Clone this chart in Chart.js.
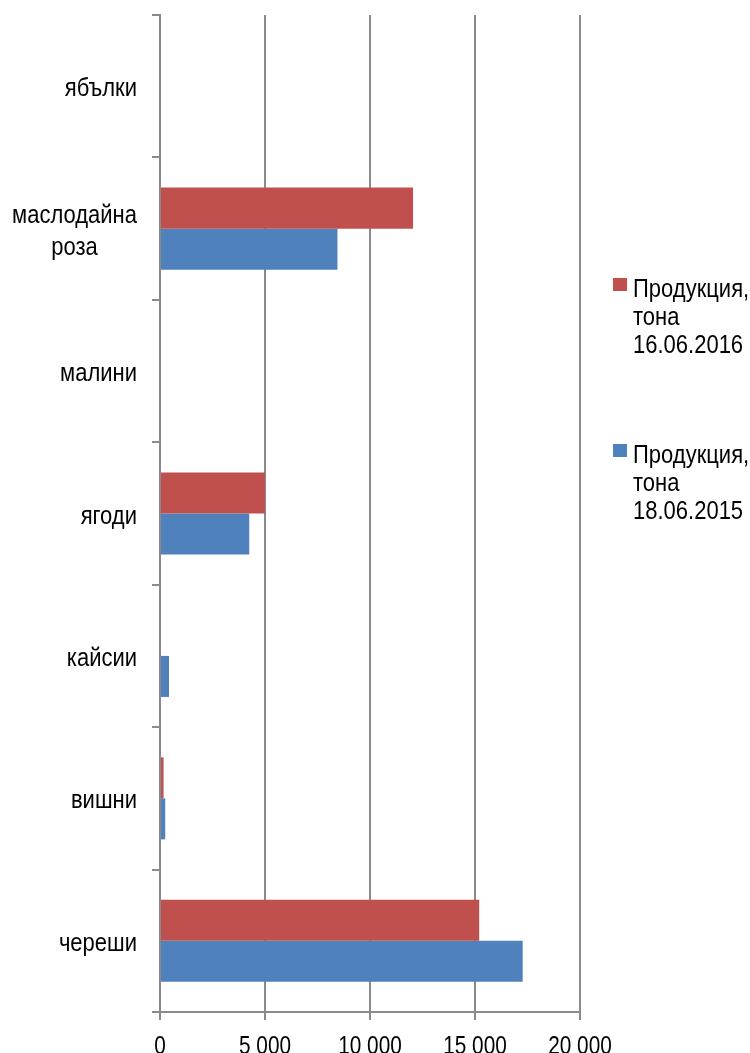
<!DOCTYPE html>
<html>
<head>
<meta charset="utf-8">
<script src="https://cdn.jsdelivr.net/npm/chart.js@4"></script>
<style>
  body { margin: 0; background: #fff; }
</style>
</head>
<body>
<canvas id="grafico" width="750" height="1053"></canvas>
<script>
// Datos
const categorias = ['ябълки', ['маслодайна', 'роза'], 'малини', 'ягоди', 'кайсии', 'вишни', 'череши'];
const produccion2016 = [null, 12050, null, 5000, null, 170, 15200];
const produccion2015 = [null, 8450, null, 4250, 430, 250, 17270];
const etiquetas = ['Продукция, тона 16.06.2016', 'Продукция, тона 18.06.2015'];
const lineasLeyenda = [['Продукция,', 'тона', '16.06.2016'], ['Продукция,', 'тона', '18.06.2015']];
const ticksX = [0, 5000, 10000, 15000, 20000];

const ROJO = '#C0504D';
const AZUL = '#4F81BD';
const GRIS = '#8a8a8a';
const FUENTE = "'Liberation Sans', Arial, sans-serif";
const ESCALA_V = 1.2; // el texto del original esta estirado en vertical

function formatearMiles(v) {
  return String(v).replace(/\B(?=(\d{3})+(?!\d))/g, ' ');
}

function texto(ctx, t, x, yBase, align) {
  ctx.textAlign = align;
  ctx.fillText(t, x, yBase / ESCALA_V);
}

// todo el texto se dibuja aqui, con la escala vertical
const textos = {
  id: 'textos',
  afterDraw(chart) {
    const ctx = chart.ctx;
    const y = chart.scales.y;
    const x = chart.scales.x;
    ctx.save();
    ctx.scale(1, ESCALA_V);
    ctx.fillStyle = '#000';
    ctx.textBaseline = 'alphabetic';

    // eje Y
    ctx.font = '22px ' + FUENTE;
    categorias.forEach((cat, i) => {
      const lineas = Array.isArray(cat) ? cat : [cat];
      const ancho = Math.max(...lineas.map(l => ctx.measureText(l).width));
      const cx = 137 - ancho / 2;
      const cy = y.getPixelForValue(i) + 10;
      lineas.forEach((l, j) => {
        texto(ctx, l, cx, cy + (j - (lineas.length - 1) / 2) * 32, 'center');
      });
    });

    // eje X
    ctx.font = '20.8px ' + FUENTE;
    ticksX.forEach(v => {
      texto(ctx, formatearMiles(v), x.getPixelForValue(v), 1054, 'center');
    });

    // leyenda
    ctx.font = '22px ' + FUENTE;
    const bases = [297, 463];
    lineasLeyenda.forEach((lineas, i) => {
      lineas.forEach((l, j) => {
        texto(ctx, l, 633, bases[i] + j * 28, 'left');
      });
    });
    ctx.restore();

    [ROJO, AZUL].forEach((c, i) => {
      ctx.fillStyle = c;
      ctx.fillRect(613, bases[i] - 19, 14, 13);
    });
  }
};

const ctx = document.getElementById('grafico').getContext('2d');
const chart = new Chart(ctx, {
  type: 'bar',
  data: {
    labels: categorias,
    datasets: [{
      label: etiquetas[0],
      data: produccion2016,
      backgroundColor: ROJO,
      barPercentage: 1,
      categoryPercentage: 0.576
    }, {
      label: etiquetas[1],
      data: produccion2015,
      backgroundColor: AZUL,
      barPercentage: 1,
      categoryPercentage: 0.576
    }]
  },
  options: {
    indexAxis: 'y',
    responsive: false,
    animation: false,
    devicePixelRatio: 1,
    layout: { padding: { top: 15, right: 170, left: 0, bottom: 0 } },
    plugins: {
      legend: { display: false },
      tooltip: { enabled: false }
    },
    scales: {
      x: {
        min: 0,
        max: 20000,
        afterFit: s => { s.height = 41; },
        afterBuildTicks: s => { s.ticks = ticksX.map(v => ({ value: v })); },
        ticks: { display: false },
        grid: { color: GRIS, lineWidth: 2, tickLength: 8 },
        border: { display: true, color: GRIS, width: 2 }
      },
      y: {
        afterFit: s => { s.width = 160; },
        ticks: { display: false },
        grid: { color: GRIS, lineWidth: 2, tickLength: 8, drawOnChartArea: false, offset: true },
        border: { display: true, color: GRIS, width: 2 }
      }
    }
  },
  plugins: [textos]
});
</script>
</body>
</html>
